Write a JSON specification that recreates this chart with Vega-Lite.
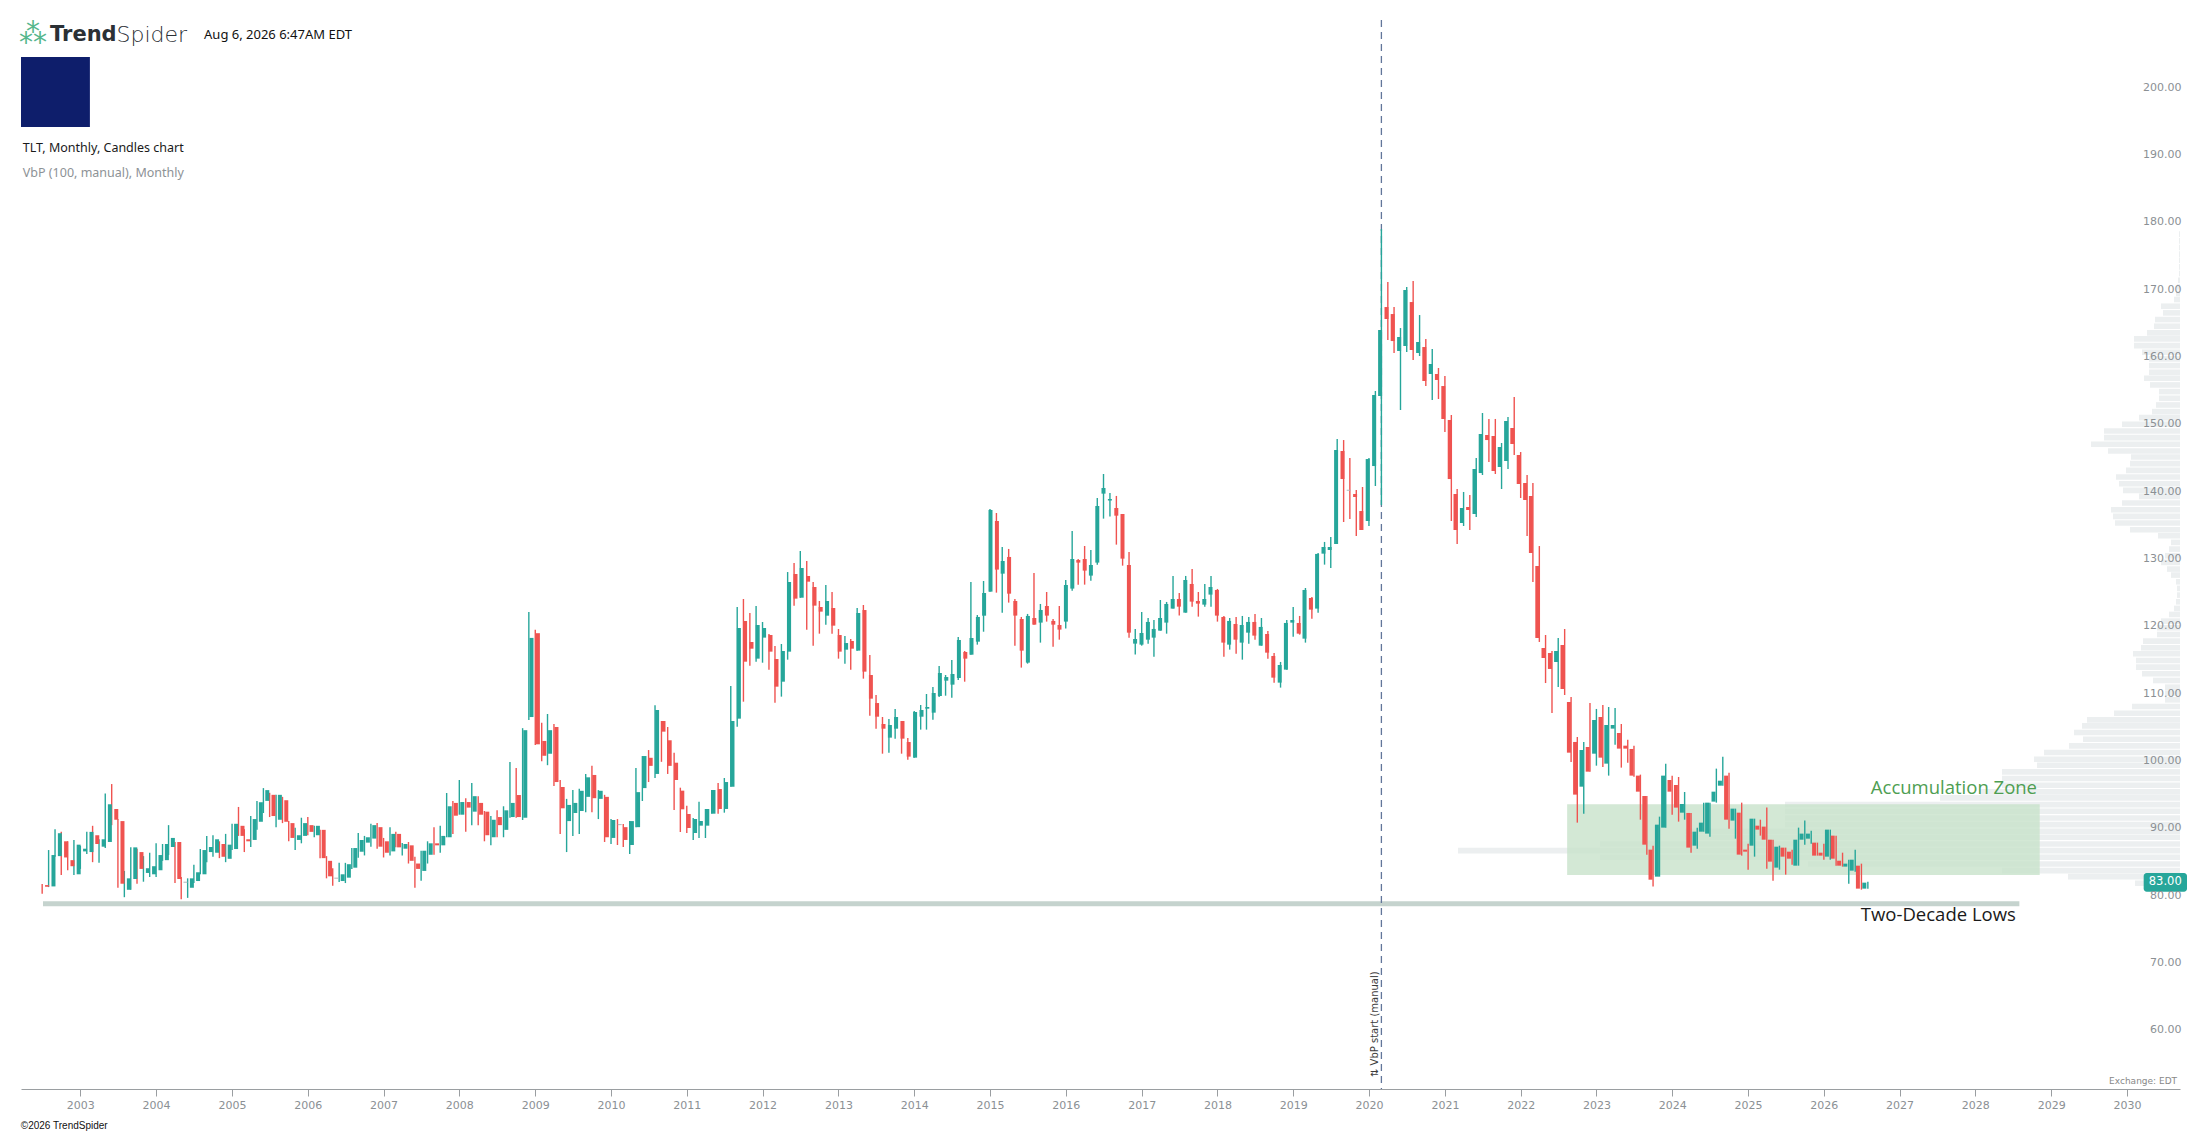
{
  "$schema": "https://vega.github.io/schema/vega-lite/v6.json",
  "width": 2159,
  "height": 1069,
  "autosize": "none",
  "padding": {"left": 21, "top": 20, "right": 27, "bottom": 46},
  "background": "white",
  "config": {"view": {"stroke": null}, "axis": {"grid": false, "title": null}},
  "datasets": {
    "candles": [
      {"d":"2002-07-01","o":81.5,"h":81.65,"l":80.2,"c":81.25},
      {"d":"2002-08-01","o":81.3,"h":86.7,"l":81.2,"c":85.96},
      {"d":"2002-09-01","o":85.8,"h":89.8,"l":85.7,"c":89.2},
      {"d":"2002-10-01","o":88.0,"h":89.4,"l":83.0,"c":85.6},
      {"d":"2002-11-01","o":85.2,"h":88.0,"l":83.7,"c":84.3},
      {"d":"2002-12-01","o":83.1,"h":88.2,"l":83.0,"c":87.5},
      {"d":"2003-01-01","o":86.5,"h":87.3,"l":83.9,"c":86.9},
      {"d":"2003-02-01","o":86.4,"h":89.4,"l":86.1,"c":89.4},
      {"d":"2003-03-01","o":88.9,"h":90.3,"l":84.9,"c":87.6},
      {"d":"2003-04-01","o":87.2,"h":88.3,"l":84.8,"c":88.3},
      {"d":"2003-05-01","o":87.9,"h":95.1,"l":87.0,"c":93.5},
      {"d":"2003-06-01","o":92.8,"h":96.5,"l":90.4,"c":91.2},
      {"d":"2003-07-01","o":91.0,"h":91.3,"l":81.1,"c":81.7},
      {"d":"2003-08-01","o":80.8,"h":83.6,"l":79.7,"c":82.5},
      {"d":"2003-09-01","o":82.4,"h":87.1,"l":80.8,"c":87.1},
      {"d":"2003-10-01","o":86.4,"h":86.9,"l":81.7,"c":83.9},
      {"d":"2003-11-01","o":83.3,"h":85.8,"l":82.0,"c":84.0},
      {"d":"2003-12-01","o":83.1,"h":86.3,"l":82.7,"c":84.3},
      {"d":"2004-01-01","o":83.7,"h":87.7,"l":82.7,"c":85.96},
      {"d":"2004-02-01","o":85.2,"h":87.6,"l":85.1,"c":87.6},
      {"d":"2004-03-01","o":87.15,"h":90.4,"l":85.96,"c":88.5},
      {"d":"2004-04-01","o":87.9,"h":87.9,"l":81.8,"c":82.4},
      {"d":"2004-05-01","o":82.0,"h":82.7,"l":79.4,"c":81.85},
      {"d":"2004-06-01","o":81.1,"h":82.5,"l":79.6,"c":82.5},
      {"d":"2004-07-01","o":82.1,"h":84.5,"l":81.8,"c":83.4},
      {"d":"2004-08-01","o":83.1,"h":86.85,"l":83.1,"c":86.7},
      {"d":"2004-09-01","o":86.4,"h":88.8,"l":84.9,"c":87.15},
      {"d":"2004-10-01","o":86.3,"h":88.9,"l":85.7,"c":88.3},
      {"d":"2004-11-01","o":87.6,"h":88.0,"l":85.5,"c":85.7},
      {"d":"2004-12-01","o":85.4,"h":89.1,"l":84.9,"c":87.5},
      {"d":"2005-01-01","o":86.85,"h":90.6,"l":86.7,"c":90.6},
      {"d":"2005-02-01","o":90.3,"h":93.1,"l":88.8,"c":88.8},
      {"d":"2005-03-01","o":88.3,"h":89.8,"l":86.4,"c":88.0},
      {"d":"2005-04-01","o":88.2,"h":91.75,"l":87.15,"c":91.3},
      {"d":"2005-05-01","o":90.9,"h":94.0,"l":89.7,"c":93.8},
      {"d":"2005-06-01","o":94.0,"h":95.9,"l":92.2,"c":95.6},
      {"d":"2005-07-01","o":94.9,"h":95.2,"l":91.6,"c":91.75},
      {"d":"2005-08-01","o":91.2,"h":94.9,"l":90.1,"c":94.9},
      {"d":"2005-09-01","o":94.1,"h":94.6,"l":90.7,"c":90.9},
      {"d":"2005-10-01","o":90.7,"h":91.0,"l":88.0,"c":88.5},
      {"d":"2005-11-01","o":88.2,"h":90.0,"l":86.7,"c":88.9},
      {"d":"2005-12-01","o":88.8,"h":91.5,"l":87.7,"c":90.7},
      {"d":"2006-01-01","o":90.4,"h":91.6,"l":88.9,"c":89.4},
      {"d":"2006-02-01","o":88.9,"h":90.3,"l":88.6,"c":90.3},
      {"d":"2006-03-01","o":89.7,"h":89.7,"l":85.5,"c":85.5},
      {"d":"2006-04-01","o":85.1,"h":85.8,"l":82.5,"c":82.8},
      {"d":"2006-05-01","o":82.6,"h":84.0,"l":81.4,"c":82.45},
      {"d":"2006-06-01","o":82.1,"h":84.8,"l":81.95,"c":83.1},
      {"d":"2006-07-01","o":82.6,"h":84.8,"l":81.8,"c":84.6},
      {"d":"2006-08-01","o":84.08,"h":87.0,"l":83.9,"c":87.0},
      {"d":"2006-09-01","o":86.45,"h":89.23,"l":85.57,"c":88.19},
      {"d":"2006-10-01","o":87.8,"h":88.8,"l":85.9,"c":88.6},
      {"d":"2006-11-01","o":88.4,"h":90.6,"l":87.2,"c":90.4},
      {"d":"2006-12-01","o":90.1,"h":90.7,"l":86.9,"c":87.2},
      {"d":"2007-01-01","o":88.0,"h":88.5,"l":85.6,"c":86.3},
      {"d":"2007-02-01","o":86.5,"h":90.1,"l":85.9,"c":89.1},
      {"d":"2007-03-01","o":89.1,"h":89.4,"l":87.1,"c":87.1},
      {"d":"2007-04-01","o":86.9,"h":87.75,"l":85.9,"c":87.6},
      {"d":"2007-05-01","o":87.4,"h":87.9,"l":84.7,"c":85.1},
      {"d":"2007-06-01","o":84.7,"h":85.7,"l":81.1,"c":83.9},
      {"d":"2007-07-01","o":83.6,"h":86.6,"l":82.15,"c":86.6},
      {"d":"2007-08-01","o":86.0,"h":88.0,"l":84.7,"c":87.7},
      {"d":"2007-09-01","o":87.7,"h":90.1,"l":86.0,"c":87.4},
      {"d":"2007-10-01","o":87.4,"h":90.3,"l":86.3,"c":88.8},
      {"d":"2007-11-01","o":88.6,"h":95.17,"l":88.6,"c":93.2},
      {"d":"2007-12-01","o":93.7,"h":93.98,"l":89.1,"c":91.8},
      {"d":"2008-01-01","o":91.95,"h":97.1,"l":91.95,"c":93.83},
      {"d":"2008-02-01","o":93.83,"h":94.4,"l":89.4,"c":93.0},
      {"d":"2008-03-01","o":92.4,"h":96.65,"l":90.4,"c":94.7},
      {"d":"2008-04-01","o":93.7,"h":94.7,"l":90.4,"c":91.95},
      {"d":"2008-05-01","o":92.4,"h":92.5,"l":88.0,"c":88.9},
      {"d":"2008-06-01","o":88.6,"h":91.75,"l":87.4,"c":91.2},
      {"d":"2008-07-01","o":91.6,"h":92.6,"l":88.6,"c":90.4},
      {"d":"2008-08-01","o":89.7,"h":93.2,"l":88.6,"c":92.6},
      {"d":"2008-09-01","o":91.6,"h":99.77,"l":91.5,"c":93.7},
      {"d":"2008-10-01","o":94.87,"h":98.9,"l":91.5,"c":91.6},
      {"d":"2008-11-01","o":91.5,"h":104.8,"l":91.16,"c":104.5},
      {"d":"2008-12-01","o":106.45,"h":122.04,"l":106.0,"c":118.2},
      {"d":"2009-01-01","o":118.9,"h":119.4,"l":102.3,"c":102.4},
      {"d":"2009-02-01","o":102.9,"h":105.6,"l":99.9,"c":100.7},
      {"d":"2009-03-01","o":101.0,"h":106.9,"l":99.3,"c":104.5},
      {"d":"2009-04-01","o":104.97,"h":105.4,"l":96.2,"c":96.8},
      {"d":"2009-05-01","o":96.06,"h":97.1,"l":89.1,"c":92.9},
      {"d":"2009-06-01","o":91.0,"h":94.3,"l":86.4,"c":93.4},
      {"d":"2009-07-01","o":92.2,"h":95.6,"l":88.8,"c":93.7},
      {"d":"2009-08-01","o":92.5,"h":95.8,"l":89.1,"c":95.5},
      {"d":"2009-09-01","o":94.6,"h":98.0,"l":92.3,"c":97.5},
      {"d":"2009-10-01","o":97.85,"h":99.2,"l":92.3,"c":94.4},
      {"d":"2009-11-01","o":94.3,"h":95.6,"l":91.3,"c":95.5},
      {"d":"2009-12-01","o":94.6,"h":94.9,"l":87.9,"c":88.6},
      {"d":"2010-01-01","o":88.5,"h":91.3,"l":87.6,"c":91.16},
      {"d":"2010-02-01","o":90.55,"h":91.3,"l":87.45,"c":90.4},
      {"d":"2010-03-01","o":90.1,"h":90.57,"l":87.15,"c":88.2},
      {"d":"2010-04-01","o":87.45,"h":91.0,"l":86.1,"c":91.0},
      {"d":"2010-05-01","o":90.1,"h":98.9,"l":90.1,"c":95.3},
      {"d":"2010-06-01","o":95.9,"h":100.66,"l":93.98,"c":100.66},
      {"d":"2010-07-01","o":100.4,"h":101.55,"l":96.8,"c":99.2},
      {"d":"2010-08-01","o":98.0,"h":108.2,"l":97.4,"c":107.5},
      {"d":"2010-09-01","o":105.86,"h":105.86,"l":99.8,"c":104.28},
      {"d":"2010-10-01","o":103.0,"h":104.97,"l":98.0,"c":99.2},
      {"d":"2010-11-01","o":99.67,"h":101.16,"l":92.65,"c":97.1},
      {"d":"2010-12-01","o":95.52,"h":95.96,"l":89.38,"c":92.75},
      {"d":"2011-01-01","o":92.05,"h":93.29,"l":89.23,"c":89.97},
      {"d":"2011-02-01","o":89.23,"h":91.46,"l":88.19,"c":91.31},
      {"d":"2011-03-01","o":90.32,"h":93.88,"l":88.49,"c":91.01},
      {"d":"2011-04-01","o":90.32,"h":92.8,"l":88.49,"c":92.8},
      {"d":"2011-05-01","o":92.1,"h":95.62,"l":92.1,"c":95.62},
      {"d":"2011-06-01","o":95.76,"h":96.66,"l":92.1,"c":92.8},
      {"d":"2011-07-01","o":92.8,"h":97.4,"l":92.25,"c":96.8},
      {"d":"2011-08-01","o":96.1,"h":111.06,"l":96.1,"c":105.86},
      {"d":"2011-09-01","o":106.21,"h":122.79,"l":105.0,"c":119.67},
      {"d":"2011-10-01","o":120.71,"h":123.98,"l":108.73,"c":114.67},
      {"d":"2011-11-01","o":117.59,"h":121.9,"l":114.08,"c":116.6},
      {"d":"2011-12-01","o":115.12,"h":122.94,"l":114.67,"c":120.12},
      {"d":"2012-01-01","o":118.24,"h":120.56,"l":114.52,"c":119.67},
      {"d":"2012-02-01","o":118.63,"h":118.78,"l":113.48,"c":116.16},
      {"d":"2012-03-01","o":115.07,"h":117.0,"l":108.58,"c":110.96},
      {"d":"2012-04-01","o":111.7,"h":117.3,"l":109.48,"c":116.26},
      {"d":"2012-05-01","o":116.16,"h":127.98,"l":114.97,"c":126.5},
      {"d":"2012-06-01","o":127.69,"h":129.32,"l":122.99,"c":124.03},
      {"d":"2012-07-01","o":124.17,"h":131.1,"l":124.17,"c":128.58},
      {"d":"2012-08-01","o":127.39,"h":129.62,"l":119.42,"c":126.55},
      {"d":"2012-09-01","o":125.76,"h":126.5,"l":117.05,"c":122.99},
      {"d":"2012-10-01","o":122.79,"h":123.68,"l":118.83,"c":122.1},
      {"d":"2012-11-01","o":121.5,"h":126.05,"l":120.17,"c":123.68},
      {"d":"2012-12-01","o":122.64,"h":125.0,"l":118.83,"c":120.02},
      {"d":"2013-01-01","o":118.63,"h":119.52,"l":115.12,"c":116.16},
      {"d":"2013-02-01","o":116.45,"h":118.48,"l":114.37,"c":117.44},
      {"d":"2013-03-01","o":117.74,"h":118.04,"l":113.48,"c":116.6},
      {"d":"2013-04-01","o":116.31,"h":122.64,"l":116.31,"c":121.9},
      {"d":"2013-05-01","o":122.34,"h":123.09,"l":112.15,"c":113.19},
      {"d":"2013-06-01","o":112.69,"h":115.66,"l":106.65,"c":109.18},
      {"d":"2013-07-01","o":108.53,"h":109.72,"l":104.72,"c":106.5},
      {"d":"2013-08-01","o":105.42,"h":106.46,"l":101.01,"c":104.72},
      {"d":"2013-09-01","o":103.39,"h":106.16,"l":101.16,"c":105.27},
      {"d":"2013-10-01","o":104.72,"h":107.64,"l":103.24,"c":106.46},
      {"d":"2013-11-01","o":105.86,"h":105.86,"l":101.01,"c":103.24},
      {"d":"2013-12-01","o":102.74,"h":103.34,"l":100.12,"c":100.57},
      {"d":"2014-01-01","o":100.42,"h":107.35,"l":100.42,"c":107.2},
      {"d":"2014-02-01","o":106.5,"h":108.24,"l":104.58,"c":107.5},
      {"d":"2014-03-01","o":107.69,"h":109.87,"l":104.58,"c":107.94},
      {"d":"2014-04-01","o":107.1,"h":110.91,"l":106.06,"c":110.02},
      {"d":"2014-05-01","o":109.57,"h":114.03,"l":109.43,"c":112.99},
      {"d":"2014-06-01","o":111.85,"h":112.69,"l":109.62,"c":112.39},
      {"d":"2014-07-01","o":111.26,"h":114.92,"l":109.33,"c":112.84},
      {"d":"2014-08-01","o":112.25,"h":118.33,"l":111.95,"c":117.89},
      {"d":"2014-09-01","o":116.11,"h":116.26,"l":111.7,"c":115.12},
      {"d":"2014-10-01","o":115.71,"h":126.5,"l":115.71,"c":118.19},
      {"d":"2014-11-01","o":117.64,"h":121.6,"l":117.2,"c":121.31},
      {"d":"2014-12-01","o":121.5,"h":126.65,"l":119.12,"c":124.87},
      {"d":"2015-01-01","o":125.07,"h":137.35,"l":125.07,"c":137.2},
      {"d":"2015-02-01","o":135.56,"h":136.75,"l":124.92,"c":128.34},
      {"d":"2015-03-01","o":127.74,"h":131.7,"l":121.95,"c":129.62},
      {"d":"2015-04-01","o":130.22,"h":131.41,"l":123.44,"c":124.77},
      {"d":"2015-05-01","o":123.68,"h":123.98,"l":117.05,"c":121.51},
      {"d":"2015-06-01","o":121.01,"h":121.31,"l":113.79,"c":116.31},
      {"d":"2015-07-01","o":114.53,"h":121.76,"l":114.38,"c":121.46},
      {"d":"2015-08-01","o":121.16,"h":127.84,"l":120.17,"c":120.17},
      {"d":"2015-09-01","o":120.47,"h":123.24,"l":117.5,"c":122.35},
      {"d":"2015-10-01","o":122.94,"h":125.02,"l":120.62,"c":121.51},
      {"d":"2015-11-01","o":120.72,"h":121.01,"l":116.9,"c":120.17},
      {"d":"2015-12-01","o":120.12,"h":122.94,"l":117.94,"c":119.43},
      {"d":"2016-01-01","o":120.62,"h":126.8,"l":119.58,"c":126.06},
      {"d":"2016-02-01","o":125.52,"h":134.08,"l":125.22,"c":129.92},
      {"d":"2016-03-01","o":129.77,"h":129.92,"l":126.11,"c":129.38},
      {"d":"2016-04-01","o":129.92,"h":131.85,"l":126.11,"c":128.19},
      {"d":"2016-05-01","o":127.45,"h":131.26,"l":126.7,"c":129.03},
      {"d":"2016-06-01","o":129.38,"h":138.98,"l":129.08,"c":137.79},
      {"d":"2016-07-01","o":139.62,"h":142.54,"l":135.91,"c":140.46},
      {"d":"2016-08-01","o":138.6,"h":139.7,"l":136.21,"c":138.83},
      {"d":"2016-09-01","o":137.49,"h":139.28,"l":132.05,"c":136.35},
      {"d":"2016-10-01","o":136.6,"h":136.6,"l":128.93,"c":129.97},
      {"d":"2016-11-01","o":129.03,"h":130.96,"l":118.24,"c":118.98},
      {"d":"2016-12-01","o":117.35,"h":119.53,"l":115.72,"c":118.04},
      {"d":"2017-01-01","o":117.2,"h":122.05,"l":117.05,"c":118.93},
      {"d":"2017-02-01","o":117.94,"h":121.16,"l":117.35,"c":120.57},
      {"d":"2017-03-01","o":118.24,"h":120.86,"l":115.42,"c":119.53},
      {"d":"2017-04-01","o":119.28,"h":123.83,"l":119.28,"c":121.16},
      {"d":"2017-05-01","o":120.47,"h":123.54,"l":118.83,"c":123.24},
      {"d":"2017-06-01","o":122.55,"h":127.4,"l":122.55,"c":123.98},
      {"d":"2017-07-01","o":123.98,"h":124.87,"l":121.51,"c":122.84},
      {"d":"2017-08-01","o":121.95,"h":127.4,"l":121.95,"c":126.8},
      {"d":"2017-09-01","o":126.21,"h":128.44,"l":122.84,"c":123.59},
      {"d":"2017-10-01","o":123.68,"h":125.02,"l":121.36,"c":123.29},
      {"d":"2017-11-01","o":123.14,"h":126.21,"l":122.84,"c":123.98},
      {"d":"2017-12-01","o":124.63,"h":127.4,"l":122.84,"c":125.76},
      {"d":"2018-01-01","o":125.32,"h":125.47,"l":120.62,"c":121.51},
      {"d":"2018-02-01","o":121.31,"h":121.46,"l":115.42,"c":117.5},
      {"d":"2018-03-01","o":117.2,"h":121.16,"l":116.46,"c":120.72},
      {"d":"2018-04-01","o":120.27,"h":121.31,"l":115.86,"c":117.94},
      {"d":"2018-05-01","o":117.5,"h":121.46,"l":114.97,"c":120.12},
      {"d":"2018-06-01","o":118.98,"h":121.31,"l":117.35,"c":120.57},
      {"d":"2018-07-01","o":120.57,"h":121.76,"l":117.94,"c":118.54},
      {"d":"2018-08-01","o":117.05,"h":121.16,"l":117.05,"c":119.83},
      {"d":"2018-09-01","o":118.78,"h":119.23,"l":115.12,"c":116.01},
      {"d":"2018-10-01","o":115.52,"h":115.96,"l":111.56,"c":112.3},
      {"d":"2018-11-01","o":111.56,"h":114.63,"l":110.82,"c":114.18},
      {"d":"2018-12-01","o":113.49,"h":120.86,"l":113.49,"c":120.42},
      {"d":"2019-01-01","o":120.47,"h":122.8,"l":118.39,"c":120.86},
      {"d":"2019-02-01","o":120.42,"h":121.46,"l":118.69,"c":118.83},
      {"d":"2019-03-01","o":118.09,"h":125.61,"l":117.5,"c":125.32},
      {"d":"2019-04-01","o":124.13,"h":124.28,"l":121.06,"c":122.4},
      {"d":"2019-05-01","o":122.55,"h":130.81,"l":121.95,"c":130.67},
      {"d":"2019-06-01","o":130.71,"h":132.45,"l":129.08,"c":131.7},
      {"d":"2019-07-01","o":131.25,"h":133.18,"l":128.58,"c":131.7},
      {"d":"2019-08-01","o":132.14,"h":147.73,"l":132.14,"c":146.1},
      {"d":"2019-09-01","o":145.95,"h":147.58,"l":135.41,"c":141.79},
      {"d":"2019-10-01","o":140.2,"h":144.91,"l":135.86,"c":140.05},
      {"d":"2019-11-01","o":139.57,"h":140.16,"l":133.33,"c":139.12},
      {"d":"2019-12-01","o":137.04,"h":140.61,"l":134.22,"c":134.22},
      {"d":"2020-01-01","o":135.56,"h":144.91,"l":134.82,"c":144.76},
      {"d":"2020-02-01","o":143.72,"h":154.86,"l":140.76,"c":154.27},
      {"d":"2020-03-01","o":154.12,"h":178.91,"l":137.93,"c":163.92},
      {"d":"2020-04-01","o":167.33,"h":171.05,"l":162.43,"c":165.55},
      {"d":"2020-05-01","o":166.29,"h":167.33,"l":160.5,"c":162.28},
      {"d":"2020-06-01","o":160.8,"h":164.21,"l":152.04,"c":162.88},
      {"d":"2020-07-01","o":161.54,"h":170.3,"l":160.65,"c":169.86},
      {"d":"2020-08-01","o":168.07,"h":171.19,"l":159.46,"c":160.95},
      {"d":"2020-09-01","o":160.5,"h":166.14,"l":160.06,"c":162.14},
      {"d":"2020-10-01","o":161.39,"h":162.58,"l":155.6,"c":156.35},
      {"d":"2020-11-01","o":157.39,"h":161.1,"l":153.53,"c":158.87},
      {"d":"2020-12-01","o":157.39,"h":158.28,"l":153.67,"c":156.5},
      {"d":"2021-01-01","o":155.6,"h":157.09,"l":148.77,"c":150.7},
      {"d":"2021-02-01","o":150.56,"h":151.3,"l":135.56,"c":141.79},
      {"d":"2021-03-01","o":139.57,"h":140.31,"l":132.14,"c":134.22},
      {"d":"2021-04-01","o":135.26,"h":139.87,"l":134.82,"c":137.49},
      {"d":"2021-05-01","o":137.64,"h":139.42,"l":134.22,"c":137.19},
      {"d":"2021-06-01","o":136.6,"h":144.91,"l":136.15,"c":143.28},
      {"d":"2021-07-01","o":142.68,"h":151.6,"l":142.39,"c":148.48},
      {"d":"2021-08-01","o":148.33,"h":150.71,"l":144.32,"c":147.58},
      {"d":"2021-09-01","o":148.18,"h":150.71,"l":142.54,"c":142.98},
      {"d":"2021-10-01","o":143.58,"h":147.14,"l":140.31,"c":146.55},
      {"d":"2021-11-01","o":144.47,"h":151.0,"l":143.28,"c":150.41},
      {"d":"2021-12-01","o":149.37,"h":153.97,"l":145.36,"c":146.99},
      {"d":"2022-01-01","o":145.36,"h":145.8,"l":138.97,"c":141.05},
      {"d":"2022-02-01","o":141.2,"h":142.39,"l":133.33,"c":138.68},
      {"d":"2022-03-01","o":139.27,"h":141.2,"l":126.5,"c":130.81},
      {"d":"2022-04-01","o":128.88,"h":131.84,"l":117.6,"c":118.19},
      {"d":"2022-05-01","o":116.7,"h":118.63,"l":111.5,"c":115.22},
      {"d":"2022-06-01","o":115.96,"h":116.26,"l":107.05,"c":113.59},
      {"d":"2022-07-01","o":114.62,"h":118.19,"l":110.91,"c":116.26},
      {"d":"2022-08-01","o":117.15,"h":119.52,"l":109.72,"c":110.61},
      {"d":"2022-09-01","o":108.68,"h":109.43,"l":99.78,"c":101.16},
      {"d":"2022-10-01","o":102.75,"h":103.49,"l":90.77,"c":94.93},
      {"d":"2022-11-01","o":96.11,"h":102.75,"l":92.1,"c":101.56},
      {"d":"2022-12-01","o":102.0,"h":108.54,"l":98.34,"c":98.34},
      {"d":"2023-01-01","o":101.01,"h":107.65,"l":99.23,"c":106.01},
      {"d":"2023-02-01","o":106.46,"h":108.24,"l":99.03,"c":100.42},
      {"d":"2023-03-01","o":99.53,"h":107.94,"l":97.75,"c":105.27},
      {"d":"2023-04-01","o":104.73,"h":107.79,"l":102.35,"c":105.27},
      {"d":"2023-05-01","o":104.08,"h":105.42,"l":98.94,"c":101.76},
      {"d":"2023-06-01","o":102.2,"h":103.09,"l":99.68,"c":101.76},
      {"d":"2023-07-01","o":101.71,"h":102.2,"l":97.6,"c":97.75},
      {"d":"2023-08-01","o":97.75,"h":97.9,"l":91.21,"c":95.37},
      {"d":"2023-09-01","o":94.73,"h":94.73,"l":86.02,"c":87.5},
      {"d":"2023-10-01","o":86.76,"h":87.35,"l":81.27,"c":82.3},
      {"d":"2023-11-01","o":82.75,"h":91.66,"l":82.75,"c":90.47},
      {"d":"2023-12-01","o":90.03,"h":99.53,"l":90.03,"c":97.75},
      {"d":"2024-01-01","o":97.1,"h":97.75,"l":91.96,"c":95.37},
      {"d":"2024-02-01","o":96.36,"h":97.55,"l":90.92,"c":93.0},
      {"d":"2024-03-01","o":92.25,"h":95.32,"l":91.21,"c":93.54},
      {"d":"2024-04-01","o":92.21,"h":92.21,"l":86.31,"c":87.06},
      {"d":"2024-05-01","o":87.35,"h":90.03,"l":86.91,"c":89.43},
      {"d":"2024-06-01","o":89.43,"h":93.74,"l":89.43,"c":90.77},
      {"d":"2024-07-01","o":89.14,"h":93.74,"l":88.69,"c":93.74},
      {"d":"2024-08-01","o":93.89,"h":98.79,"l":93.74,"c":95.37},
      {"d":"2024-09-01","o":96.26,"h":100.57,"l":96.26,"c":97.0},
      {"d":"2024-10-01","o":97.75,"h":98.19,"l":89.88,"c":91.21},
      {"d":"2024-11-01","o":91.07,"h":92.85,"l":88.39,"c":92.85},
      {"d":"2024-12-01","o":92.25,"h":93.74,"l":85.87,"c":86.02},
      {"d":"2025-01-01","o":86.76,"h":87.65,"l":83.79,"c":86.46},
      {"d":"2025-02-01","o":87.35,"h":91.36,"l":85.72,"c":91.36},
      {"d":"2025-03-01","o":90.32,"h":91.21,"l":88.84,"c":89.73},
      {"d":"2025-04-01","o":90.18,"h":93.0,"l":83.94,"c":88.24},
      {"d":"2025-05-01","o":88.24,"h":88.24,"l":82.16,"c":84.98},
      {"d":"2025-06-01","o":84.09,"h":87.35,"l":83.79,"c":87.2},
      {"d":"2025-07-01","o":87.06,"h":87.06,"l":83.05,"c":85.72},
      {"d":"2025-08-01","o":86.46,"h":86.76,"l":84.53,"c":85.42},
      {"d":"2025-09-01","o":84.38,"h":90.03,"l":84.38,"c":88.24},
      {"d":"2025-10-01","o":88.24,"h":91.07,"l":87.5,"c":89.14},
      {"d":"2025-11-01","o":88.39,"h":89.58,"l":87.65,"c":89.14},
      {"d":"2025-12-01","o":87.8,"h":87.8,"l":85.87,"c":85.87},
      {"d":"2026-01-01","o":86.31,"h":87.65,"l":85.27,"c":85.87},
      {"d":"2026-02-01","o":85.72,"h":89.73,"l":85.27,"c":89.73},
      {"d":"2026-03-01","o":88.84,"h":88.84,"l":84.38,"c":85.42},
      {"d":"2026-04-01","o":85.12,"h":86.31,"l":84.24,"c":84.38},
      {"d":"2026-05-01","o":84.24,"h":85.27,"l":81.71,"c":84.68},
      {"d":"2026-06-01","o":83.64,"h":86.76,"l":83.49,"c":85.27},
      {"d":"2026-07-01","o":84.38,"h":84.68,"l":80.82,"c":80.97},
      {"d":"2026-08-01","o":80.97,"h":82.01,"l":80.97,"c":81.86}
    ],
    "vbp": [
      {"p":81.3,"v":45},{"p":82.3,"v":112},{"p":83.2,"v":178},{"p":84.2,"v":372},{"p":85.2,"v":580},
      {"p":86.2,"v":722},{"p":87.2,"v":580},{"p":88.2,"v":495},{"p":89.1,"v":495},{"p":90.1,"v":395},
      {"p":91.1,"v":395},{"p":92.1,"v":395},{"p":93.1,"v":395},{"p":94.1,"v":240},{"p":95.0,"v":200},
      {"p":96.0,"v":178},{"p":97.0,"v":178},{"p":98.0,"v":178},{"p":99.0,"v":143},{"p":99.9,"v":146},
      {"p":100.9,"v":136},{"p":101.9,"v":111},{"p":102.9,"v":97},{"p":103.9,"v":106},{"p":104.9,"v":98},
      {"p":105.8,"v":93},{"p":106.8,"v":66},{"p":107.8,"v":48},{"p":108.8,"v":15},{"p":109.8,"v":15},
      {"p":110.7,"v":15},{"p":111.7,"v":27},{"p":112.7,"v":38},{"p":113.7,"v":44},{"p":114.7,"v":44},
      {"p":115.7,"v":47},{"p":116.6,"v":39},{"p":117.6,"v":37},{"p":118.6,"v":23},{"p":119.6,"v":23},
      {"p":120.6,"v":19},{"p":121.6,"v":11},{"p":122.5,"v":6},{"p":123.5,"v":4},{"p":124.5,"v":3},
      {"p":125.5,"v":3},{"p":126.5,"v":4},{"p":127.5,"v":9},{"p":128.4,"v":13},{"p":129.4,"v":19},
      {"p":130.4,"v":15},{"p":131.4,"v":11},{"p":132.4,"v":9},{"p":133.4,"v":22},{"p":134.3,"v":50},
      {"p":135.3,"v":65},{"p":136.3,"v":67},{"p":137.3,"v":69},{"p":138.3,"v":58},{"p":139.3,"v":41},
      {"p":140.2,"v":57},{"p":141.2,"v":61},{"p":142.2,"v":64},{"p":143.2,"v":54},{"p":144.2,"v":50},
      {"p":145.2,"v":49},{"p":146.1,"v":72},{"p":147.1,"v":89},{"p":148.1,"v":76},{"p":149.1,"v":76},
      {"p":150.1,"v":58},{"p":151.1,"v":41},{"p":152.0,"v":28},{"p":153.0,"v":24},{"p":154.0,"v":21},
      {"p":155.0,"v":21},{"p":156.0,"v":30},{"p":157.0,"v":36},{"p":157.9,"v":31},{"p":158.9,"v":31},
      {"p":159.9,"v":31},{"p":160.9,"v":38},{"p":161.9,"v":46},{"p":162.9,"v":46},{"p":163.8,"v":33},
      {"p":164.8,"v":26},{"p":165.8,"v":25},{"p":166.8,"v":17},{"p":167.8,"v":19},{"p":168.8,"v":6},
      {"p":169.7,"v":4},{"p":170.7,"v":3},{"p":171.7,"v":2},{"p":172.7,"v":1},{"p":173.7,"v":1},
      {"p":174.7,"v":1},{"p":175.6,"v":1},{"p":176.6,"v":1},{"p":177.6,"v":1},{"p":178.6,"v":1}
    ]
  },
  "resolve": {"scale": {"x": "independent", "y": "independent"}},
  "layer": [
    {
      "data": {"name": "vbp"},
      "mark": {"type": "bar", "orient": "horizontal", "height": 5.6, "color": "#eceff0"},
      "encoding": {
        "x": {"field": "v", "type": "quantitative", "scale": {"domain": [0, 2159], "reverse": true, "nice": false}, "axis": null},
        "y": {"field": "p", "type": "quantitative", "scale": {"domain": [51.22, 209.95], "nice": false, "zero": false}, "axis": null}
      }
    },
    {
      "data": {"values": [{}]},
      "mark": {"type": "rect", "color": "#c8e2cb", "opacity": 0.8},
      "encoding": {
        "x": {"datum": {"year": 2022, "month": 8, "date": 13}, "type": "temporal", "scale": {"domain": ["2002-03-21", "2030-09-13"], "nice": false}, "axis": null},
        "x2": {"datum": {"year": 2028, "month": 11, "date": 6}},
        "y": {"datum": 83.0, "scale": {"domain": [51.22, 209.95], "nice": false, "zero": false}, "axis": null},
        "y2": {"datum": 93.5}
      }
    },
    {
      "data": {"values": [{}]},
      "mark": {"type": "rect", "color": "#c5d3ce"},
      "encoding": {
        "x": {"datum": {"year": 2002, "month": 7, "date": 5}, "type": "temporal", "scale": {"domain": ["2002-03-21", "2030-09-13"], "nice": false}, "axis": null},
        "x2": {"datum": {"year": 2028, "month": 7, "date": 31}},
        "y": {"datum": 78.35, "scale": {"domain": [51.22, 209.95], "nice": false, "zero": false}, "axis": null},
        "y2": {"datum": 79.1}
      }
    },
    {
      "data": {"values": [{}]},
      "mark": {"type": "rule", "color": "#62769a", "strokeWidth": 1.3, "strokeDash": [7, 5]},
      "encoding": {
        "x": {"datum": {"year": 2020, "month": 3, "date": 1}, "type": "temporal", "scale": {"domain": ["2002-03-21", "2030-09-13"], "nice": false}, "axis": null}
      }
    },
    {
      "data": {"name": "candles"},
      "mark": {"type": "rule", "strokeWidth": 1.4},
      "encoding": {
        "x": {
          "field": "d", "type": "temporal",
          "scale": {"domain": ["2002-03-21", "2030-09-13"], "nice": false},
          "axis": {
            "orient": "bottom", "format": "%Y", "tickCount": {"interval": "year", "step": 1},
            "domainColor": "#9a9ea1", "tickColor": "#9a9ea1", "tickSize": 7, "labelPadding": 3,
            "labelFont": "DejaVu Sans", "labelFontSize": 11, "labelColor": "#8b9094",
            "labelFlush": false, "labelOverlap": false, "grid": false, "title": null
          }
        },
        "y": {
          "field": "l", "type": "quantitative",
          "scale": {"domain": [51.22, 209.95], "nice": false, "zero": false},
          "axis": {
            "orient": "right", "values": [60, 70, 80, 90, 100, 110, 120, 130, 140, 150, 160, 170, 180, 190, 200],
            "format": ".2f", "domain": false, "ticks": false, "grid": false, "labelAlign": "right",
            "labelPadding": 1, "labelFont": "DejaVu Sans", "labelFontSize": 11, "labelColor": "#8b9094",
            "title": null, "zindex": 1
          }
        },
        "y2": {"field": "h"},
        "color": {"condition": [{"test": "datum.c > datum.o", "value": "#26a69a"}], "value": "#ef5350"}
      }
    },
    {
      "data": {"name": "candles"},
      "mark": {"type": "bar", "width": 4},
      "encoding": {
        "x": {"field": "d", "type": "temporal", "scale": {"domain": ["2002-03-21", "2030-09-13"], "nice": false}, "axis": null},
        "y": {"field": "o", "type": "quantitative", "scale": {"domain": [51.22, 209.95], "nice": false, "zero": false}, "axis": null},
        "y2": {"field": "c"},
        "color": {
          "condition": [
            {"test": "abs(datum.c - datum.o) < 0.2", "value": "#b3b7ba"},
            {"test": "datum.c > datum.o", "value": "#26a69a"}
          ],
          "value": "#ef5350"
        }
      }
    },
    {
      "data": {"values": [{}]},
      "mark": {"type": "rect", "color": "#26a69a", "cornerRadius": 3, "x2Offset": 7},
      "encoding": {
        "x": {"datum": {"year": 2030, "month": 3, "date": 22}, "type": "temporal", "scale": {"domain": ["2002-03-21", "2030-09-13"], "nice": false}, "axis": null},
        "x2": {"datum": {"year": 2030, "month": 9, "date": 13}},
        "y": {"datum": 80.5, "scale": {"domain": [51.22, 209.95], "nice": false, "zero": false}, "axis": null},
        "y2": {"datum": 83.3}
      }
    },
    {
      "data": {"values": [{}]},
      "mark": {"type": "text", "text": "83.00", "color": "white", "font": "DejaVu Sans", "fontSize": 11.5, "align": "center", "baseline": "middle"},
      "encoding": {
        "x": {"datum": {"year": 2030, "month": 7, "date": 4}, "type": "temporal", "scale": {"domain": ["2002-03-21", "2030-09-13"], "nice": false}, "axis": null},
        "y": {"datum": 81.9, "scale": {"domain": [51.22, 209.95], "nice": false, "zero": false}, "axis": null}
      }
    },
    {
      "data": {"values": [{}]},
      "mark": {"type": "text", "text": "Accumulation Zone", "color": "#4e9e52", "font": "Open Sans", "fontSize": 18.5, "align": "right", "baseline": "alphabetic"},
      "encoding": {
        "x": {"datum": {"year": 2028, "month": 10, "date": 24}, "type": "temporal", "scale": {"domain": ["2002-03-21", "2030-09-13"], "nice": false}, "axis": null},
        "y": {"datum": 95.03, "scale": {"domain": [51.22, 209.95], "nice": false, "zero": false}, "axis": null}
      }
    },
    {
      "data": {"values": [{}]},
      "mark": {"type": "text", "text": "Two-Decade Lows", "color": "#1a1a1a", "font": "Open Sans", "fontSize": 18.5, "align": "right", "baseline": "alphabetic"},
      "encoding": {
        "x": {"datum": {"year": 2028, "month": 7, "date": 14}, "type": "temporal", "scale": {"domain": ["2002-03-21", "2030-09-13"], "nice": false}, "axis": null},
        "y": {"datum": 76.17, "scale": {"domain": [51.22, 209.95], "nice": false, "zero": false}, "axis": null}
      }
    },
    {
      "data": {"values": [{}]},
      "mark": {"type": "text", "text": "⇅ VbP start (manual)", "color": "#3c3c3c", "font": "DejaVu Sans", "fontSize": 10, "angle": 270, "align": "left", "baseline": "bottom"},
      "encoding": {
        "x": {"datum": {"year": 2020, "month": 2, "date": 25}, "type": "temporal", "scale": {"domain": ["2002-03-21", "2030-09-13"], "nice": false}, "axis": null},
        "y": {"datum": 53.0, "scale": {"domain": [51.22, 209.95], "nice": false, "zero": false}, "axis": null}
      }
    },
    {
      "data": {"values": [{}]},
      "mark": {"type": "text", "text": "⁂", "color": "#56b68c", "font": "DejaVu Sans", "fontSize": 28, "align": "center", "baseline": "middle"},
      "encoding": {
        "x": {"datum": {"year": 2002, "month": 5, "date": 18}, "type": "temporal", "scale": {"domain": ["2002-03-21", "2030-09-13"], "nice": false}, "axis": null},
        "y": {"datum": 207.72, "scale": {"domain": [51.22, 209.95], "nice": false, "zero": false}, "axis": null}
      }
    },
    {
      "data": {"values": [{}]},
      "mark": {"type": "text", "text": "Trend", "color": "#2b3035", "font": "DejaVu Sans", "fontWeight": "bold", "fontSize": 21, "align": "left", "baseline": "middle"},
      "encoding": {
        "x": {"datum": {"year": 2002, "month": 8, "date": 8}, "type": "temporal", "scale": {"domain": ["2002-03-21", "2030-09-13"], "nice": false}, "axis": null},
        "y": {"datum": 207.72, "scale": {"domain": [51.22, 209.95], "nice": false, "zero": false}, "axis": null}
      }
    },
    {
      "data": {"values": [{}]},
      "mark": {"type": "text", "text": "Spider", "color": "#2b3035", "font": "DejaVu Sans", "fontWeight": 200, "fontSize": 22, "align": "left", "baseline": "middle"},
      "encoding": {
        "x": {"datum": {"year": 2003, "month": 6, "date": 24}, "type": "temporal", "scale": {"domain": ["2002-03-21", "2030-09-13"], "nice": false}, "axis": null},
        "y": {"datum": 207.72, "scale": {"domain": [51.22, 209.95], "nice": false, "zero": false}, "axis": null}
      }
    },
    {
      "data": {"values": [{}]},
      "mark": {"type": "text", "text": "Aug 6, 2026 6:47AM EDT", "color": "#111111", "font": "Noto Sans", "fontSize": 13, "align": "left", "baseline": "middle"},
      "encoding": {
        "x": {"datum": {"year": 2004, "month": 8, "date": 19}, "type": "temporal", "scale": {"domain": ["2002-03-21", "2030-09-13"], "nice": false}, "axis": null},
        "y": {"datum": 207.72, "scale": {"domain": [51.22, 209.95], "nice": false, "zero": false}, "axis": null}
      }
    },
    {
      "data": {"values": [{}]},
      "mark": {"type": "rect", "color": "#0e1e6b"},
      "encoding": {
        "x": {"datum": {"year": 2002, "month": 3, "date": 21}, "type": "temporal", "scale": {"domain": ["2002-03-21", "2030-09-13"], "nice": false}, "axis": null},
        "x2": {"datum": {"year": 2003, "month": 2, "date": 16}},
        "y": {"datum": 194.06, "scale": {"domain": [51.22, 209.95], "nice": false, "zero": false}, "axis": null},
        "y2": {"datum": 204.45}
      }
    },
    {
      "data": {"values": [{}]},
      "mark": {"type": "text", "text": "TLT, Monthly, Candles chart", "color": "#1a1a1a", "font": "Noto Sans", "fontSize": 12.5, "align": "left", "baseline": "middle"},
      "encoding": {
        "x": {"datum": {"year": 2002, "month": 3, "date": 30}, "type": "temporal", "scale": {"domain": ["2002-03-21", "2030-09-13"], "nice": false}, "axis": null},
        "y": {"datum": 190.99, "scale": {"domain": [51.22, 209.95], "nice": false, "zero": false}, "axis": null}
      }
    },
    {
      "data": {"values": [{}]},
      "mark": {"type": "text", "text": "VbP (100, manual), Monthly", "color": "#8d9296", "font": "Noto Sans", "fontSize": 12.5, "align": "left", "baseline": "middle"},
      "encoding": {
        "x": {"datum": {"year": 2002, "month": 3, "date": 30}, "type": "temporal", "scale": {"domain": ["2002-03-21", "2030-09-13"], "nice": false}, "axis": null},
        "y": {"datum": 187.23, "scale": {"domain": [51.22, 209.95], "nice": false, "zero": false}, "axis": null}
      }
    },
    {
      "data": {"values": [{}]},
      "mark": {"type": "text", "text": "©2026 TrendSpider", "color": "#111111", "font": "Liberation Sans", "fontSize": 10, "align": "left", "baseline": "middle"},
      "encoding": {
        "x": {"datum": {"year": 2002, "month": 3, "date": 20}, "type": "temporal", "scale": {"domain": ["2002-03-21", "2030-09-13"], "nice": false}, "axis": null},
        "y": {"datum": 45.73, "scale": {"domain": [51.22, 209.95], "nice": false, "zero": false}, "axis": null}
      }
    },
    {
      "data": {"values": [{}]},
      "mark": {"type": "text", "text": "Exchange: EDT", "color": "#888888", "font": "DejaVu Sans", "fontSize": 9, "align": "right", "baseline": "middle"},
      "encoding": {
        "x": {"datum": {"year": 2030, "month": 8, "date": 30}, "type": "temporal", "scale": {"domain": ["2002-03-21", "2030-09-13"], "nice": false}, "axis": null},
        "y": {"datum": 52.4, "scale": {"domain": [51.22, 209.95], "nice": false, "zero": false}, "axis": null}
      }
    }
  ]
}
